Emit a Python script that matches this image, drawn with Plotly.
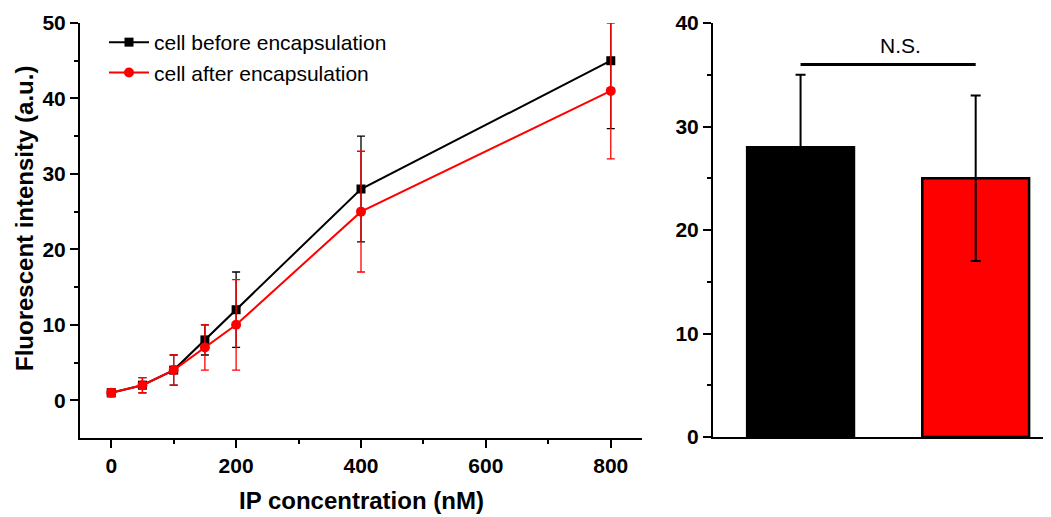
import plotly.graph_objects as go

# ---- data ----
conc = [0, 50, 100, 150, 200, 400, 800]
before_vals = [1, 2, 4, 8, 12, 28, 45]
before_err = [0.5, 1, 2, 2, 5, 7, 9]
after_vals = [1, 2, 4, 7, 10, 25, 41]
after_err = [0.5, 1, 2, 3, 6, 8, 9]

bar_cats = [0, 1]
bar_vals = [28, 25]
bar_err = [7, 8]
bar_colors = ["#000000", "#ff0000"]
ns_level = 36
ns_label = "N.S."

x_title = "IP concentration (nM)"
y_title = "Fluorescent intensity (a.u.)"

FONT = "Liberation Sans, Arial, sans-serif"
# the page body adds an 8px margin; size the figure to fit the window
OFF = 8
W, H = 1051 - OFF, 517 - OFF


def px(xp):
    return (xp - OFF) / W


def py(yp):
    return 1 - (yp - OFF) / H


fig = go.Figure()

fig.add_trace(go.Scatter(
    x=conc, y=before_vals, mode="lines+markers",
    name="cell before encapsulation",
    line=dict(color="black", width=2),
    marker=dict(symbol="square", size=9, color="black"),
    error_y=dict(type="data", array=before_err, color="black", thickness=1.3, width=4),
    xaxis="x", yaxis="y",
))
fig.add_trace(go.Scatter(
    x=conc, y=after_vals, mode="lines+markers",
    name="cell after encapsulation",
    line=dict(color="#ff0000", width=2),
    marker=dict(symbol="circle", size=10, color="#ff0000"),
    error_y=dict(type="data", array=after_err, color="#ff0000", thickness=1.3, width=4),
    xaxis="x", yaxis="y",
))

fig.add_trace(go.Bar(
    x=bar_cats, y=bar_vals, width=0.61,
    marker=dict(color=bar_colors, line=dict(color="black", width=2.5)),
    error_y=dict(type="data", array=bar_err, arrayminus=[0, bar_err[1]],
                 color="black", thickness=2, width=5),
    showlegend=False, xaxis="x2", yaxis="y2",
))

axis_common = dict(
    showline=True, linecolor="black", linewidth=2,
    ticks="outside", ticklen=8, tickwidth=2, tickcolor="black",
    showgrid=False, zeroline=False, automargin=False,
    tickfont=dict(family=FONT, size=21, color="black", weight="bold"),
)

fig.update_layout(
    width=W, height=H,
    margin=dict(l=0, r=0, t=0, b=0, autoexpand=False),
    paper_bgcolor="white", plot_bgcolor="white",
    font=dict(family=FONT, color="black"),
    xaxis=dict(
        domain=[px(80), px(642)], range=[-50, 850],
        tickvals=[0, 200, 400, 600, 800],
        minor=dict(tickvals=[100, 300, 500, 700], ticklen=4, tickwidth=2,
                   tickcolor="black", ticks="outside"),
        anchor="y",
        **axis_common,
    ),
    yaxis=dict(
        domain=[py(438), py(23)], range=[-5, 50],
        tickvals=[0, 10, 20, 30, 40, 50],
        minor=dict(tickvals=[5, 15, 25, 35, 45], ticklen=4, tickwidth=2,
                   tickcolor="black", ticks="outside"),
        anchor="x",
        **axis_common,
    ),
    xaxis2=dict(
        domain=[px(713), 1.0], range=[-0.5, 1.43],
        showticklabels=False, ticks="", showline=True, linecolor="black",
        linewidth=2, showgrid=False, zeroline=False, anchor="y2", automargin=False,
    ),
    yaxis2=dict(
        domain=[py(437), py(23)], range=[0, 40],
        tickvals=[0, 10, 20, 30, 40],
        minor=dict(tickvals=[5, 15, 25, 35], ticklen=4, tickwidth=2,
                   tickcolor="black", ticks="outside"),
        anchor="x2",
        **axis_common,
    ),
    legend=dict(
        x=px(104), y=py(22), xanchor="left", yanchor="top",
        bgcolor="rgba(0,0,0,0)",
        font=dict(family=FONT, size=21, color="black"),
        tracegroupgap=0, itemwidth=40,
    ),
    showlegend=True,
)

# axis titles
fig.add_annotation(xref="paper", yref="paper", x=px(361), y=py(500),
                   text=x_title, showarrow=False, xanchor="center", yanchor="middle",
                   font=dict(family=FONT, size=24, color="black", weight="bold"))
fig.add_annotation(xref="paper", yref="paper", x=px(24), y=py(219),
                   text=y_title, showarrow=False, textangle=-90,
                   xanchor="center", yanchor="middle",
                   font=dict(family=FONT, size=24, color="black", weight="bold"))

fig.add_shape(type="line", xref="x2", yref="y2",
              x0=bar_cats[0], x1=bar_cats[1], y0=ns_level, y1=ns_level,
              line=dict(color="black", width=3))
fig.add_annotation(xref="x2", yref="y2", x=(bar_cats[0] + bar_cats[1]) / 2,
                   y=ns_level, yanchor="bottom", yshift=5, xshift=12, text=ns_label,
                   showarrow=False, font=dict(family=FONT, size=21, color="black"))

fig.write_html("out.html")
